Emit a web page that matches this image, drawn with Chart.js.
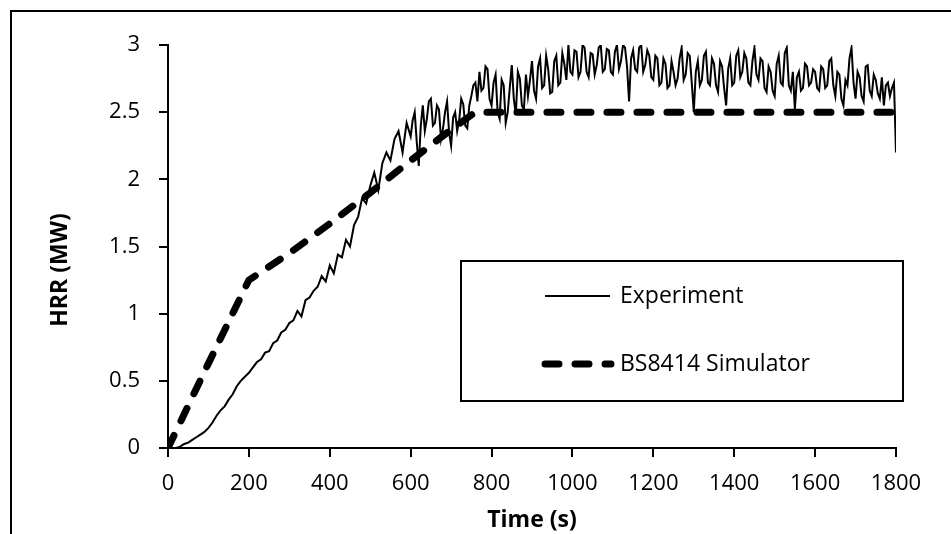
<!DOCTYPE html>
<html>
<head>
<meta charset="utf-8">
<script src="https://cdn.jsdelivr.net/npm/chart.js@4"></script>
<style>
  html, body { margin: 0; padding: 0; background: #fff; }
</style>
</head>
<body>
<canvas id="hrr-chart" width="951" height="534"></canvas>
<script>
const seriesNames = ['Experiment', 'BS8414 Simulator'];
const xTitle = 'Time (s)';
const yTitle = 'HRR (MW)';
const xTicks = [0, 200, 400, 600, 800, 1000, 1200, 1400, 1600, 1800];
const yTicks = [0, 0.5, 1, 1.5, 2, 2.5, 3];

const expTime = [
  0, 10, 20, 30, 40, 50, 60, 70, 80, 90,
  100, 110, 120, 130, 140, 150, 160, 170, 180, 190,
  200, 210, 220, 230, 240, 250, 260, 270, 280, 290,
  300, 310, 320, 330, 340, 350, 360, 370, 380, 390,
  400, 410, 420, 430, 440, 450, 460, 470, 480, 490,
  500, 510, 520, 530, 540, 550, 560, 570, 580, 590,
  600, 605, 610, 615, 620, 625, 630, 635, 640, 645,
  650, 655, 660, 665, 670, 675, 680, 685, 690, 695,
  700, 705, 710, 715, 720, 725, 730, 735, 740, 745,
  750, 755, 760, 765, 770, 775, 780, 785, 790, 795,
  800, 805, 810, 815, 820, 825, 830, 835, 840, 845,
  850, 855, 860, 865, 870, 875, 880, 885, 890, 895,
  900, 905, 910, 915, 920, 925, 930, 935, 940, 945,
  950, 955, 960, 965, 970, 975, 980, 985, 990, 995,
  1000, 1005, 1010, 1015, 1020, 1025, 1030, 1035, 1040, 1045,
  1050, 1055, 1060, 1065, 1070, 1075, 1080, 1085, 1090, 1095,
  1100, 1105, 1110, 1115, 1120, 1125, 1130, 1135, 1140, 1145,
  1150, 1155, 1160, 1165, 1170, 1175, 1180, 1185, 1190, 1195,
  1200, 1205, 1210, 1215, 1220, 1225, 1230, 1235, 1240, 1245,
  1250, 1255, 1260, 1265, 1270, 1275, 1280, 1285, 1290, 1295,
  1300, 1305, 1310, 1315, 1320, 1325, 1330, 1335, 1340, 1345,
  1350, 1355, 1360, 1365, 1370, 1375, 1380, 1385, 1390, 1395,
  1400, 1405, 1410, 1415, 1420, 1425, 1430, 1435, 1440, 1445,
  1450, 1455, 1460, 1465, 1470, 1475, 1480, 1485, 1490, 1495,
  1500, 1505, 1510, 1515, 1520, 1525, 1530, 1535, 1540, 1545,
  1550, 1555, 1560, 1565, 1570, 1575, 1580, 1585, 1590, 1595,
  1600, 1605, 1610, 1615, 1620, 1625, 1630, 1635, 1640, 1645,
  1650, 1655, 1660, 1665, 1670, 1675, 1680, 1685, 1690, 1695,
  1700, 1705, 1710, 1715, 1720, 1725, 1730, 1735, 1740, 1745,
  1750, 1755, 1760, 1765, 1770, 1775, 1780, 1785, 1790, 1795,
  1800
];
const expHRR = [
  0, 0, 0, 0.01, 0.03, 0.04, 0.06, 0.08, 0.1, 0.12,
  0.15, 0.19, 0.24, 0.28, 0.31, 0.36, 0.4, 0.46, 0.5, 0.53,
  0.56, 0.6, 0.64, 0.66, 0.71, 0.72, 0.78, 0.8, 0.86, 0.88,
  0.93, 0.95, 1.02, 0.98, 1.1, 1.12, 1.17, 1.2, 1.28, 1.24,
  1.36, 1.3, 1.44, 1.42, 1.55, 1.5, 1.66, 1.72, 1.86, 1.82,
  1.95, 2.05, 1.92, 2.12, 2.2, 2.14, 2.3, 2.36, 2.2, 2.42,
  2.32, 2.44, 2.5, 2.28, 2.1, 2.4, 2.55, 2.36, 2.45, 2.58,
  2.6, 2.4, 2.42, 2.55, 2.52, 2.3, 2.38, 2.5, 2.58, 2.35,
  2.25, 2.46, 2.5, 2.36, 2.44, 2.6, 2.56, 2.4, 2.38, 2.55,
  2.62, 2.7, 2.72, 2.58, 2.8, 2.66, 2.68, 2.84, 2.82, 2.6,
  2.55, 2.72, 2.78, 2.5, 2.45, 2.74, 2.7, 2.42, 2.5, 2.68,
  2.85, 2.6, 2.48, 2.8, 2.75, 2.55, 2.52, 2.78, 2.62, 2.74,
  2.88, 2.66, 2.6, 2.84, 2.9, 2.68, 2.7, 2.92, 2.82, 2.64,
  2.65, 2.88, 2.92, 2.7, 2.72, 2.94, 2.86, 2.74, 3.0, 2.8,
  2.78, 2.96, 2.95, 2.76, 2.8, 3.0, 2.98, 2.8, 2.76, 2.94,
  2.93, 2.78, 2.85, 2.98, 3.0, 2.8, 2.82, 2.97, 2.96, 2.8,
  2.78, 2.95, 3.0, 2.82, 2.88, 3.0, 2.98, 2.84, 2.58, 2.9,
  2.96, 2.82, 2.8, 2.98, 3.0, 2.8, 2.85, 2.96, 2.92, 2.76,
  2.74, 2.92, 2.9, 2.7, 2.72, 2.9, 2.86, 2.68, 2.7, 2.88,
  2.8, 2.7, 2.75, 2.9, 2.98, 2.74, 2.78, 2.94, 2.92, 2.72,
  2.5, 2.8, 2.88, 2.7, 2.74, 2.92, 2.95, 2.72, 2.7, 2.9,
  2.86, 2.7, 2.65, 2.88, 2.84, 2.68, 2.55, 2.82, 2.9, 2.7,
  2.72, 2.92, 2.96, 2.76, 2.8, 2.94, 2.9, 2.72, 2.7, 2.88,
  2.98, 2.78, 2.74, 2.9, 2.88, 2.68, 2.65, 2.84, 2.8, 2.66,
  2.62, 2.86, 2.92, 2.72, 2.7, 2.94, 2.98, 2.7, 2.66, 2.8,
  2.52, 2.76, 2.8, 2.66, 2.68, 2.86, 2.84, 2.7, 2.72, 2.82,
  2.8, 2.68, 2.66, 2.84, 2.82, 2.68, 2.7, 2.88, 2.9, 2.7,
  2.62, 2.8, 2.78, 2.6, 2.55, 2.74, 2.7, 2.9, 2.98, 2.72,
  2.6, 2.8, 2.76, 2.62, 2.58, 2.84, 2.85, 2.66, 2.62, 2.78,
  2.74, 2.64, 2.6, 2.76, 2.55, 2.7, 2.72, 2.62, 2.68, 2.72,
  2.2
];

// simulator curve
const simTime = [0, 100, 200, 300, 400, 500, 600, 700, 760, 1000, 1200, 1400, 1600, 1800];
const simHRR = [0, 0.63, 1.25, 1.45, 1.67, 1.9, 2.14, 2.37, 2.5, 2.5, 2.5, 2.5, 2.5, 2.5];

const FAMILY = "'Open Sans', sans-serif";

function points(xs, ys) {
    return xs.map((x, i) => ({x: x, y: ys[i]}));
}

// outer frame of the figure
const framePlugin = {
    id: 'frame',
    beforeDraw(chart) {
        const c = chart.ctx;
        c.save();
        c.fillStyle = '#fff';
        c.fillRect(0, 0, chart.width, chart.height);
        c.strokeStyle = '#000';
        c.lineWidth = 2;
        c.strokeRect(11, 11, chart.width + 20, chart.height + 20);
        c.restore();
    }
};

// y axis title sits a bit below the axis middle in the original
const yTitlePlugin = {
    id: 'yTitle',
    afterDraw(chart) {
        const c = chart.ctx;
        c.save();
        c.translate(60, 270);
        c.rotate(-Math.PI / 2);
        c.font = 'bold 23px ' + FAMILY;
        c.fillStyle = '#000';
        c.textAlign = 'center';
        c.textBaseline = 'middle';
        c.fillText(yTitle, 0, 0);
        c.restore();
    }
};

// boxed legend inside the plot
const legendBoxPlugin = {
    id: 'legendBox',
    afterDraw(chart) {
        const c = chart.ctx;
        const rows = [296, 364];
        c.save();
        c.fillStyle = '#fff';
        c.fillRect(461, 261, 442, 140);
        c.strokeStyle = '#000';
        c.lineWidth = 2;
        c.strokeRect(461, 261, 442, 140);
        chart.data.datasets.forEach((ds, i) => {
            c.beginPath();
            c.lineWidth = ds.borderWidth;
            c.lineCap = ds.borderCapStyle || 'butt';
            c.setLineDash(ds.borderDash || []);
            c.moveTo(545, rows[i]);
            c.lineTo(i === 0 ? 610 : 611, rows[i]);
            c.stroke();
            c.setLineDash([]);
            c.font = '23px ' + FAMILY;
            c.fillStyle = '#000';
            c.textAlign = 'left';
            c.textBaseline = 'middle';
            c.fillText(ds.label, 620, rows[i]);
        });
        c.restore();
    }
};

const axisGrid = {
    display: true,
    drawOnChartArea: false,
    drawTicks: true,
    tickLength: 9,
    color: '#000',
    lineWidth: 2
};

const hrrChart = document.getElementById('hrr-chart');
new Chart(hrrChart, {
    type: 'line',
    data: {
        datasets: [
            {
                label: seriesNames[0],
                data: points(expTime, expHRR),
                borderColor: '#000',
                borderWidth: 2,
                pointRadius: 0,
                tension: 0
            },
            {
                label: seriesNames[1],
                data: points(simTime, simHRR),
                borderColor: '#000',
                borderWidth: 7,
                borderDash: [14, 16],
                borderCapStyle: 'round',
                borderJoinStyle: 'round',
                pointRadius: 0,
                tension: 0
            }
        ]
    },
    options: {
        responsive: false,
        animation: false,
        layout: {
            padding: {left: 0, right: 55, top: 45, bottom: 0}
        },
        plugins: {
            legend: {display: false},
            tooltip: {enabled: false}
        },
        scales: {
            x: {
                type: 'linear',
                min: 0,
                max: 1800,
                afterBuildTicks: (axis) => { axis.ticks = xTicks.map(v => ({value: v})); },
                afterFit: (axis) => { axis.height = 86; },
                ticks: {
                    callback: (v) => String(v),
                    color: '#000',
                    padding: 14,
                    maxRotation: 0,
                    autoSkip: false,
                    font: {family: FAMILY, size: 22}
                },
                grid: axisGrid,
                border: {display: true, color: '#000', width: 2},
                title: {
                    display: true,
                    text: xTitle,
                    color: '#000',
                    padding: 0,
                    font: {family: FAMILY, size: 23, weight: 'bold'}
                }
            },
            y: {
                type: 'linear',
                min: 0,
                max: 3,
                afterBuildTicks: (axis) => { axis.ticks = yTicks.map(v => ({value: v})); },
                afterFit: (axis) => { axis.width = 168; },
                ticks: {
                    callback: (v) => String(v),
                    color: '#000',
                    padding: 19,
                    font: {family: FAMILY, size: 22}
                },
                grid: axisGrid,
                border: {display: true, color: '#000', width: 2}
            }
        }
    },
    plugins: [framePlugin, yTitlePlugin, legendBoxPlugin]
});
</script>
</body>
</html>
